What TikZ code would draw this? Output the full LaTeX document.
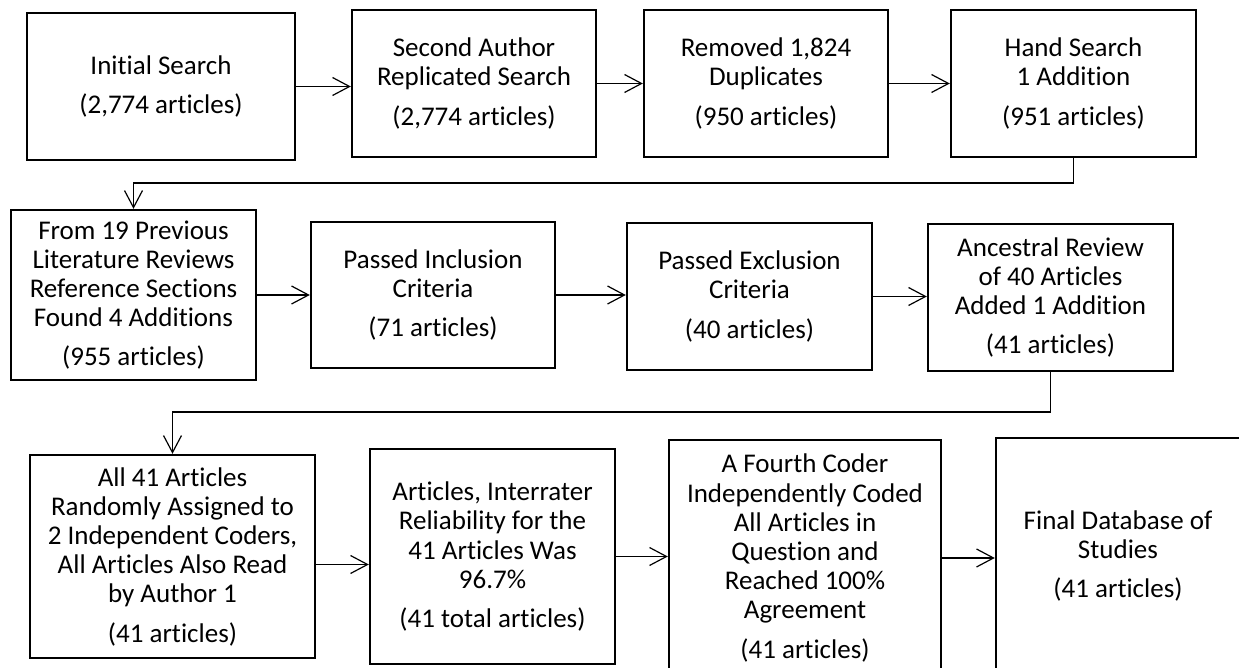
\documentclass[tikz,border=0pt]{standalone}
\usepackage{fontspec}
\setmainfont[Ligatures=CommonOff]{Carlito}
\usetikzlibrary{arrows.meta}

\begin{document}
\begin{tikzpicture}[x=0.5pt,y=-0.5pt,
  box/.style={draw,line width=1.2pt,align=center,inner sep=0pt,
    font=\fontsize{13.5}{14.6}\selectfont},
  flow/.style={line width=0.6pt,
    -{Straight Barb[length=8.5pt,width=9pt,line width=0.6pt]}}]

  \useasboundingbox (0,0) rectangle (1239,668);
  \clip (0,0) rectangle (1239,668);

  % first row
  \node [box,minimum width=134pt,minimum height=73.5pt] (initial) at (161,86.5)
    {Initial Search\\[5pt](2,774 articles)};
  \node [box,minimum width=122pt,minimum height=73.5pt] (second) at (474,83.5)
    {Second Author\\Replicated Search\\[5pt](2,774 articles)};
  \node [box,minimum width=122pt,minimum height=73.5pt] (dupl) at (766,83.5)
    {Removed 1,824\\Duplicates\\[5pt](950 articles)};
  \node [box,minimum width=122.5pt,minimum height=73.5pt] (hand) at (1073.5,83.5)
    {Hand Search\\1 Addition\\[5pt](951 articles)};

  % second row
  \node [box,minimum width=122.5pt,minimum height=85pt] (lit) at (133.5,295)
    {From 19 Previous\\Literature Reviews\\Reference Sections\\Found 4 Additions\\[5pt](955 articles)};
  \node [box,minimum width=122pt,minimum height=73pt] (incl) at (433,295)
    {Passed Inclusion\\Criteria\\[5pt](71 articles)};
  \node [box,minimum width=122.5pt,minimum height=73.5pt] (excl) at (749.5,296.5)
    {Passed Exclusion\\Criteria\\[5pt](40 articles)};
  \node [box,minimum width=122.5pt,minimum height=73.5pt] (ances) at (1050.5,297.5)
    {Ancestral Review\\of 40 Articles\\Added 1 Addition\\[5pt](41 articles)};

  % third row
  \node [box,minimum width=142.5pt,minimum height=101.5pt] (assign) at (172.5,556.5)
    {All 41 Articles\\Randomly Assigned to\\2 Independent Coders,\\All Articles Also Read\\by Author 1\\[5pt](41 articles)};
  \node [box,minimum width=122.5pt,minimum height=107.5pt] (reli) at (492.5,556.5)
    {Articles, Interrater\\Reliability for the\\41 Articles Was\\96.7\%\\[5pt](41 total articles)};
  \node [box,minimum width=136pt,minimum height=118pt] (fourth) at (805,558)
    {A Fourth Coder\\Independently Coded\\All Articles in\\Question and\\Reached 100\%\\Agreement\\[5pt](41 articles)};
  \node [box,minimum width=122pt,minimum height=118pt] (final) at (1118,556)
    {Final Database of\\Studies\\[5pt](41 articles)};

  \coordinate (turnA) at (1073.5,183);
  \coordinate (turnB) at (1050.5,412);

  \draw [flow] (initial.east) -- (initial.east -| second.west);
  \draw [flow] (second.east) -- (second.east -| dupl.west);
  \draw [flow] (dupl.east) -- (dupl.east -| hand.west);
  \draw [flow] (hand.south) -- (turnA) -| (lit.north);

  \draw [flow] (lit.east) -- (lit.east -| incl.west);
  \draw [flow] (incl.east) -- (incl.east -| excl.west);
  \draw [flow] (excl.east) -- (excl.east -| ances.west);
  \draw [flow] (ances.south) -- (turnB) -| (assign.north);

  \draw [flow] ([yshift=-4pt]assign.east) -- ([yshift=-4pt]assign.east -| reli.west);
  \draw [flow] (reli.east) -- (reli.east -| fourth.west);
  \draw [flow] (fourth.east) -- (fourth.east -| final.west);
\end{tikzpicture}
\end{document}
